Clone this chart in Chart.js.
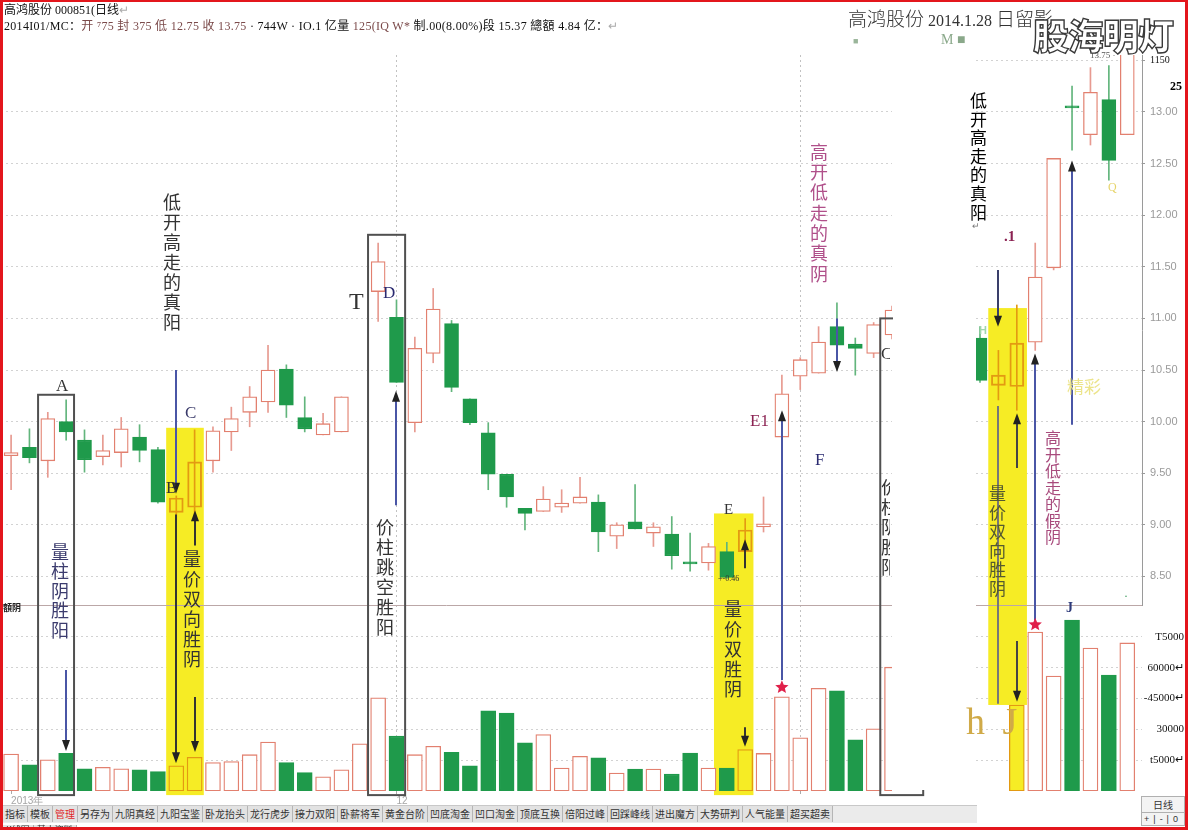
<!DOCTYPE html>
<html><head><meta charset="utf-8">
<script src="https://cdn.jsdelivr.net/npm/chart.js@4.4.0/dist/chart.umd.min.js"></script>
<style>
html,body{margin:0;padding:0;background:#fff;}
#stage{position:relative;width:1188px;height:830px;overflow:hidden;background:#fff;font-family:"Liberation Serif","Noto Sans CJK SC",serif;}
canvas{position:absolute;top:0;}
.t{position:absolute;white-space:nowrap;line-height:1;}
.v{position:absolute;writing-mode:vertical-rl;text-orientation:upright;font-family:"Noto Sans CJK SC",sans-serif;line-height:1;white-space:nowrap;}
.clip{position:absolute;overflow:hidden;}
#tabs{position:absolute;left:3px;top:805px;width:974px;height:17px;background:#ebebeb;border-top:1px solid #c8c8c8;font-family:"Noto Sans CJK SC",sans-serif;font-size:10px;color:#333;white-space:nowrap;overflow:hidden;}
#tabs span{display:inline-block;height:16px;line-height:16px;padding:0 2px;border-right:1px solid #b5b5b5;background:#e2e2e2;}
#tabs2{position:absolute;left:3px;top:823px;font-family:"Noto Sans CJK SC",sans-serif;font-size:9px;color:#333;white-space:nowrap;}
#tabs2 span{display:inline-block;padding:0 3px;border-right:1px solid #aaa;background:#e2e2e2;line-height:9px;}
#frame{position:absolute;left:0;top:0;width:1188px;height:830px;box-sizing:border-box;border-left:3px solid #e3161c;border-right:3px solid #e3161c;border-top:2px solid #e3161c;border-bottom:3px solid #e3161c;pointer-events:none;}
</style></head>
<body><div id="stage">
<canvas id="main" width="960" height="830" style="left:0"></canvas>
<div style="position:absolute;left:893px;top:57px;width:83px;height:733px;background:#fff"></div>
<canvas id="right" width="208" height="830" style="left:976px"></canvas>
<div id="texts"></div>
<div id="tabs"></div>
<div id="tabs2"><span>K线图</span><span>基本资料</span></div>
<div class="t" style="left:1141px;top:796px;width:42px;height:15px;border:1px solid #b0b0b0;background:#f3f3f3;font-family:'Noto Sans CJK SC';font-size:10px;text-align:center;line-height:15px;color:#333">日线</div>
<div class="t" style="left:1141px;top:812px;width:42px;height:12px;border:1px solid #b0b0b0;background:#f3f3f3;font-family:'Liberation Sans';font-size:9px;text-align:center;line-height:12px;color:#333;letter-spacing:4px">+|-|0</div>
<div id="frame"></div>
</div>
<script>
// ---------------- DATA (main chart, daily K-line, index 0..48) ----------------
const mainIdx   = [0,1,2,3,4,5,6,7,8,9,10,11,12,13,14,15,16,17,18,19,20,21,22,23,24,25,26,27,28,29,30,31,32,33,34,35,36,37,38,39,40,41,42,43,44,45,46,47,48];
const mainOpen  = [9.67,9.75,9.62,10.00,9.82,9.66,9.70,9.85,9.73,9.12,9.17,9.62,9.90,10.09,10.19,10.51,10.04,9.87,9.90,null,11.26,11.01,9.99,10.66,10.95,10.22,9.89,9.49,9.16,9.13,9.17,9.21,9.22,8.89,9.03,8.92,8.91,8.64,8.63,8.74,8.74,8.98,9.85,10.44,10.47,10.92,10.75,10.66,10.84];
const mainClose = [9.70,9.65,10.03,9.90,9.63,9.72,9.93,9.72,9.22,9.26,9.61,9.91,10.03,10.24,10.50,10.16,9.93,9.98,10.24,null,11.55,10.38,10.71,11.09,10.33,9.99,9.49,9.27,9.11,9.25,9.21,9.27,8.93,9.00,8.96,8.98,8.70,8.62,8.79,8.49,8.95,9.01,10.27,10.60,10.77,10.74,10.71,10.94,11.08];
const mainHigh  = [9.87,9.93,10.09,10.21,9.92,9.87,10.04,9.97,9.75,9.28,9.92,9.95,10.14,10.34,10.74,10.55,10.24,10.08,10.24,null,11.73,11.18,10.82,11.29,10.98,10.22,9.99,9.49,9.16,9.37,9.34,9.46,9.29,9.02,9.39,9.02,9.08,8.92,8.82,8.83,9.06,9.27,10.45,10.62,10.92,11.15,10.81,10.96,11.12];
const mainLow   = [9.34,9.60,9.46,9.82,9.51,9.58,9.56,9.61,9.21,9.05,9.05,9.51,9.72,9.95,10.09,10.04,9.90,9.87,9.90,null,10.97,10.38,9.90,10.57,10.29,9.97,9.34,9.17,8.95,9.13,9.12,9.21,8.74,8.77,8.96,8.79,8.57,8.55,8.56,8.48,8.74,8.93,9.81,10.31,10.47,10.67,10.45,10.62,10.80];
const mainVol   = [18000,12800,15200,18300,10800,11500,10800,10300,9500,12300,16400,13900,14300,17700,23800,13900,9000,6900,10300,23000,45400,26700,17700,21800,18800,12300,39000,38000,23500,27500,11200,16900,16100,8700,10700,10700,8200,18500,11200,11200,20200,18300,45900,25900,50000,48800,24900,30300,60300];
const mainHighlight = [9,10,40];
const dateTickIdx    = [0,21,43];
const dateTickLabels = ['2013年','12',''];
const priceGrid  = [8.5,9.0,9.5,10.0,10.5,11.0,11.5,12.0,12.5,13.0];
const volGrid    = [15000,30000,45000,60000,75000];

// ---------------- DATA (right panel, 2014.1.28 snapshot) ----------------
const rightIdx   = [0,1,2,3,4,5,6,7,8];
const rightOpen  = [10.81,10.35,10.34,10.77,11.49,13.06,12.78,13.12,12.78];
const rightClose = [10.40,10.45,10.76,11.40,12.55,13.04,13.19,12.53,13.60];
const rightHigh  = [10.92,10.69,11.13,11.73,12.55,13.25,13.43,13.45,13.70];
const rightLow   = [10.38,10.21,10.11,10.69,11.47,12.63,12.68,12.34,12.78];
const rightVol   = [null,null,41900,77400,56000,83300,69600,56500,72100];
const rightHighlight = [1,2];
const rightPriceTicks  = [8.50,8.75,9.00,9.25,9.50,9.75,10.00,10.25,10.50,10.75,11.00,11.25,11.50,11.75,12.00,12.25,12.50,12.75,13.00,13.25,13.50];
const rightPriceLabels = ['8.50','8.75','9.00','9.25','9.50','9.75','10.00','10.25','10.50','10.75','11.00','11.25','11.50','11.75','12.00','12.25','12.50','12.75','13.00','13.25','1150'];
const rightVolTicks  = [15000,30000,45000,60000,75000];
const rightVolLabels = ['t5000↵','30000','-45000↵','60000↵','T5000'];

// ---------------- annotations (in data units) ----------------
const mainYellow = [{x0:8.45,x1:10.5,top:{p:9.94},bot:{v:-2000}},{x0:38.3,x1:40.45,top:{p:9.11},bot:{v:-2000}}];
const mainRects  = [{x0:1.47,x1:3.43,top:{p:10.26},bot:{v:-2000}},{x0:19.45,x1:21.47,top:{p:11.81},bot:{v:-2000}},{x0:47.36,x1:49.7,top:{p:11.0},bot:{v:-2000}}];
const mainArrows = [
  {x:3,from:{v:58900},to:{v:19500},color:'#4a56a6',head:true},
  {x:9,from:{p:10.50},to:{p:9.30},color:'#4a56a6',head:true},
  {x:9,from:{p:9.10},to:{v:13500},color:'#333',head:true},
  {x:10,from:{v:45800},to:{v:19000},color:'#333',head:true},
  {x:10,from:{p:8.80},to:{p:9.14},color:'#333',head:true},
  {x:21,from:{p:9.19},to:{p:10.30},color:'#4a56a6',head:true},
  {x:40,from:{p:8.58},to:{p:8.86},color:'#333',head:true},
  {x:40,from:{v:31000},to:{v:21500},color:'#333',head:true},
  {x:42,from:{v:54000},to:{p:10.11},color:'#4a56a6',head:true},
  {x:45,from:{p:11.0},to:{p:10.48},color:'#4a56a6',head:true}
];
const mainStars = [{x:42,at:{v:50500}}];
const rightYellow = [{x0:0.45,x1:2.55,top:{p:11.10},bot:{v:41900}}];
const rightArrows = [
  {x:1,from:{p:11.47},to:{p:10.92},color:'#3a3f6a',head:true},
  {x:1,from:{p:10.15},to:{v:42500},color:'#777',head:false},
  {x:2,from:{p:9.55},to:{p:10.08},color:'#444',head:true},
  {x:2,from:{v:73000},to:{v:43500},color:'#444',head:true},
  {x:3,from:{v:83000},to:{p:10.66},color:'#4a56a6',head:true},
  {x:5,from:{p:9.97},to:{p:12.53},color:'#4a56a6',head:true}
];
const rightStars = [{x:3,at:{v:81000}}];

// ---------------- styles ----------------
const RED='#e2806f', REDW='#e79a90', GREEN='#1f9a4b', GREENW='#62b57c', ORANGE='#e39a12', YELLOW='#f6ec25';

function candleSets(idx,o,c,h,l,v,hl){
  const pos={}; idx.forEach((x,i)=>pos[x]=i);
  const up=x=> o[pos[x]]===null || c[pos[x]]>=o[pos[x]];
  const isHL=x=>hl.includes(x);
  const keep=idx.filter((x,i)=>o[i]!==null);
  const keepV=idx.filter((x,i)=>v[i]!==null);
  const wick={type:'bar',yAxisID:'yP',grouped:false,order:3,barThickness:1,borderWidth:0,clip:0,
    data:keep.map(x=>({x,y:[l[pos[x]],h[pos[x]]]})),
    backgroundColor:ctx=>!ctx.raw?REDW:(isHL(ctx.raw.x)?ORANGE:(up(ctx.raw.x)?REDW:GREENW))};
  const body={type:'bar',yAxisID:'yP',grouped:false,order:2,barThickness:14,borderWidth:1.3,borderSkipped:false,minBarLength:2,clip:0,
    data:keep.map(x=>({x,y:[o[pos[x]],c[pos[x]]]})),
    backgroundColor:ctx=>!ctx.raw?'#fff':(up(ctx.raw.x)?(isHL(ctx.raw.x)?'rgba(0,0,0,0)':'#fff'):GREEN),
    borderColor:ctx=>!ctx.raw?RED:(isHL(ctx.raw.x)?ORANGE:(up(ctx.raw.x)?RED:GREEN))};
  const vol={type:'bar',yAxisID:'yV',grouped:false,order:1,barThickness:15,borderWidth:1.3,borderSkipped:false,clip:0,
    data:keepV.map(x=>({x,y:v[pos[x]]})),
    backgroundColor:ctx=>!ctx.raw?'#fff':(up(ctx.raw.x)?(isHL(ctx.raw.x)?YELLOW:'#fff'):GREEN),
    borderColor:ctx=>!ctx.raw?RED:(isHL(ctx.raw.x)?ORANGE:(up(ctx.raw.x)?RED:GREEN))};
  return [wick,body,vol];
}

function X(ch,x){return ch.scales.x.getPixelForValue(x);}
function Y(ch,pt){return pt.p!==undefined?ch.scales.yP.getPixelForValue(pt.p):ch.scales.yV.getPixelForValue(pt.v);}
function drawStar(ctx,cx,cy,r){ctx.beginPath();for(let k=0;k<10;k++){const rr=k%2?r*0.45:r;const a=-Math.PI/2+k*Math.PI/5;ctx.lineTo(cx+rr*Math.cos(a),cy+rr*Math.sin(a));}ctx.closePath();ctx.fill();}
const annotate={
  id:'annotate',
  beforeDatasetsDraw(ch,args,o){
    const ctx=ch.ctx;ctx.save();ctx.fillStyle=YELLOW;
    (o.yellow||[]).forEach(b=>{const x0=X(ch,b.x0),x1=X(ch,b.x1),y0=Y(ch,b.top),y1=Y(ch,b.bot);ctx.fillRect(x0,y0,x1-x0,y1-y0);});
    ctx.restore();
  },
  afterDatasetsDraw(ch,args,o){
    const ctx=ch.ctx;ctx.save();
    const yb=Math.round(ch.scales.yP.bottom)+0.5;
    ctx.strokeStyle='#bba7a7';ctx.lineWidth=1;ctx.beginPath();ctx.moveTo(ch.chartArea.left,yb);ctx.lineTo(ch.chartArea.right,yb);ctx.stroke();
    ctx.strokeStyle='#505050';ctx.lineWidth=2;
    (o.rects||[]).forEach(b=>{const x0=X(ch,b.x0),x1=X(ch,b.x1),y0=Y(ch,b.top),y1=Y(ch,b.bot);ctx.strokeRect(x0,y0,x1-x0,y1-y0);});
    (o.arrows||[]).forEach(a=>{
      const x=Math.round(X(ch,a.x)),y0=Y(ch,a.from),y1=Y(ch,a.to),dir=y1>y0?1:-1;
      ctx.strokeStyle=a.color;ctx.fillStyle=a.color;ctx.lineWidth=2;
      ctx.beginPath();ctx.moveTo(x,y0);ctx.lineTo(x,a.head?y1-dir*8:y1);ctx.stroke();
      if(a.head){ctx.fillStyle='#222';ctx.beginPath();ctx.moveTo(x,y1);ctx.lineTo(x-4,y1-dir*11);ctx.lineTo(x+4,y1-dir*11);ctx.closePath();ctx.fill();}
    });
    ctx.fillStyle='#e0204a';
    (o.stars||[]).forEach(s=>drawStar(ctx,X(ch,s.x),Y(ch,s.at),7));
    ctx.restore();
  }
};

// ---------------- main chart ----------------
new Chart(document.getElementById('main'),{
  type:'bar',
  data:{datasets:candleSets(mainIdx,mainOpen,mainClose,mainHigh,mainLow,mainVol,mainHighlight)},
  options:{
    responsive:false,animation:false,events:[],
    layout:{padding:{left:1,top:55,right:68,bottom:25}},
    plugins:{legend:{display:false},tooltip:{enabled:false},
      annotate:{yellow:mainYellow,rects:mainRects,arrows:mainArrows,stars:mainStars}},
    scales:{
      x:{type:'linear',min:-0.55,max:48.0,offset:false,position:'bottom',
        afterBuildTicks:a=>{a.ticks=dateTickIdx.map(v=>({value:v}));},
        afterFit:a=>{a.height=14;},
        ticks:{callback:(v,i)=>dateTickLabels[i],align:'start',color:'#a5a5a5',font:{size:10,family:'Liberation Sans'},padding:1,maxRotation:0,autoSkip:false},
        grid:{offset:false,color:c=>c.index===0?'rgba(0,0,0,0)':'#c2c2c2',tickColor:'#aaa',tickLength:3},
        border:{display:false,dash:[2,3]}},
      yP:{type:'linear',position:'right',stack:'s',stackWeight:550,min:8.2229,max:13.5523,
        afterBuildTicks:a=>{a.ticks=priceGrid.map(v=>({value:v}));},
        afterFit:a=>{a.width=0;},
        ticks:{display:false},grid:{color:'#d2d2d2',drawTicks:false},border:{display:false,dash:[2,3]}},
      yV:{type:'linear',position:'right',stack:'s',stackWeight:186,min:0,max:90584,
        afterBuildTicks:a=>{a.ticks=volGrid.map(v=>({value:v}));},
        afterFit:a=>{a.width=0;},
        ticks:{display:false},grid:{color:'#d2d2d2',drawTicks:false},border:{display:false,dash:[2,3]}}
    }
  },
  plugins:[annotate]
});

// ---------------- right panel ----------------
new Chart(document.getElementById('right'),{
  type:'bar',
  data:{datasets:candleSets(rightIdx,rightOpen,rightClose,rightHigh,rightLow,rightVol,rightHighlight)},
  options:{
    responsive:false,animation:false,events:[],
    layout:{padding:{left:0,top:55,right:0,bottom:39}},
    plugins:{legend:{display:false},tooltip:{enabled:false},
      annotate:{yellow:rightYellow,arrows:rightArrows,stars:rightStars}},
    scales:{
      x:{type:'linear',min:-0.217,max:8.80,offset:false,display:false},
      yP:{type:'linear',position:'right',stack:'s',stackWeight:550,min:8.2229,max:13.5523,
        afterBuildTicks:a=>{a.ticks=rightPriceTicks.map(v=>({value:v}));},
        afterFit:a=>{a.width=42;},
        ticks:{callback:(v,i)=>rightPriceLabels[i],padding:5,
          color:c=>c.index===rightPriceTicks.length-1?'#111':'#9a9a9a',
          font:c=>c.index===rightPriceTicks.length-1?{size:10,family:'Liberation Serif'}:{size:11,family:'Liberation Sans'}},
        grid:{color:c=>(c.tick&&Math.abs(c.tick.value*2-Math.round(c.tick.value*2))<1e-6)?'#d2d2d2':'rgba(0,0,0,0)',tickColor:'#999',tickLength:3},
        border:{display:true,color:'#9a9a9a',width:1,dash:[2,3]}},
      yV:{type:'linear',position:'right',stack:'s',stackWeight:186,min:0,max:90584,
        afterBuildTicks:a=>{a.ticks=rightVolTicks.map(v=>({value:v}));},
        afterFit:a=>{a.width=42;},
        ticks:{callback:(v,i)=>rightVolLabels[i],crossAlign:'far',color:'#111',font:{size:11,family:'Liberation Serif'}},
        grid:{color:'#d2d2d2',drawTicks:false},border:{display:false,dash:[2,3]}}
    }
  },
  plugins:[annotate]
});

// ---------------- texts ----------------
const tabLabels=['指标','模板','管理','另存为','九阴真经','九阳宝鉴','卧龙抬头','龙行虎步','接力双阳','卧薪将军','黄金台阶','凹底淘金','凹口淘金','顶底互换','倍阳过峰','回踩峰线','进出魔方','大势研判','人气能量','超买超卖'];
document.getElementById('tabs').innerHTML=tabLabels.map(t=>'<span'+(t==='管理'?' style="color:#e0262a"':'')+'>'+t+'</span>').join('');

const T=[];
function t(x,y,txt,st){T.push('<div class="t" style="left:'+x+'px;top:'+y+'px;'+(st||'')+'">'+txt+'</div>');}
function v(x,y,txt,st){T.push('<div class="v" style="left:'+x+'px;top:'+y+'px;'+(st||'')+'">'+txt+'</div>');}
// header
t(4,4,'高鸿股份 000851(日线<span style="color:#aaa">↵</span>','font-size:12px;color:#111');
t(4,20,'2014I01/MC：<span style="color:#7b4a4a">开 ⁷75 封 375 低 12.75 收 13.75</span> · 744W · IO.1 亿量 <span style="color:#7b4a4a">125(IQ W*</span> 制.00(8.00%)段 15.37 總額 4.84 亿：<span style="color:#aaa">↵</span>','font-size:12px;letter-spacing:0.3px;color:#111');
t(848,8,'<span style="font-family:\'Noto Sans CJK SC\';font-size:19px;font-weight:300">高鸿股份</span> <span style="font-size:16px">2014.1.28</span> <span style="font-family:\'Noto Sans CJK SC\';font-size:19px;font-weight:300">日留影</span>','color:#333');
t(853,37,'■','font-size:9px;color:#9ab59a');
t(941,33,'M ■','font-size:14px;color:#8aa88a');
t(1090,51,'13.75 ·','font-size:9px;color:#555');
t(1033,16,'股海明灯','font-family:\'Noto Sans CJK SC\';font-size:36px;font-weight:900;color:#fff;-webkit-text-stroke:1.4px #3a3a3a;letter-spacing:-1px');
t(1170,80,'25','font-size:12px;font-weight:bold;color:#000');
t(3,603,'額阴','font-family:\'Noto Sans CJK SC\';font-size:9px;font-weight:bold;color:#222');
// main annotations
v(163,193,'低开高走的真阳','font-size:18px;letter-spacing:2px;color:#333');
t(56,377,'A','font-size:17px;color:#333');
v(51,543,'量柱阴胜阳','font-size:18px;letter-spacing:1.5px;color:#3c3c6e');
t(166,479,'B','font-size:17px;color:#333');
t(185,404,'C','font-size:17px;color:#3a3a6a');
v(183,550,'量价双向胜阴','font-size:18px;letter-spacing:2px;color:#333');
t(349,289,'T','font-size:24px;color:#333');
t(383,284,'D','font-size:17px;color:#2a2a70');
v(376,518,'价柱跳空胜阳','font-size:18px;letter-spacing:2px;color:#333');
t(724,502,'E','font-size:15px;color:#333');
t(718,575,'+-0.46','font-size:8px;color:#333');
v(724,600,'量价双胜阴','font-size:18px;letter-spacing:2px;color:#333');
t(750,412,'E1','font-size:17px;color:#8b2252');
t(815,451,'F','font-size:17px;color:#2a2a70');
v(810,143,'高开低走的真阴','font-size:18px;letter-spacing:2.3px;color:#b0508a');
T.push('<div class="clip" style="left:881px;top:345px;width:9px;height:20px"><div class="t" style="left:0;top:0;font-size:17px;color:#333">C</div></div>');
T.push('<div class="clip" style="left:881px;top:478px;width:9px;height:170px"><div class="v" style="left:0;top:0;font-size:18px;letter-spacing:2px;color:#333">价柱阴胜阳</div></div>');
// right annotations
v(970,92,'低开高走的真阳','font-size:17px;letter-spacing:1.6px;color:#000');
t(972,222,'↵','font-size:9px;color:#777');
t(979,325,'H','font-family:\'Liberation Sans\';font-size:11px;font-weight:bold;color:#9fd6ae');
t(1004,229,'.1','font-size:15px;font-weight:bold;color:#8b2252');
v(989,485,'量价双向胜阴','font-size:17px;letter-spacing:2px;color:#555a30');
v(1045,430,'高开低走的假阴','font-size:16px;letter-spacing:0.5px;color:#a84a7c');
t(1067,377,'精彩','font-family:\'Noto Sans CJK SC\';font-size:17px;color:#ece48a');
t(1108,181,'Q','font-size:12px;color:#e6d46a');
t(1066,601,'J','font-size:14px;font-weight:bold;color:#2d3a7a');
t(966,702,'h J','font-size:38px;color:#d0aa48;letter-spacing:4px');
t(1124,590,'·','font-size:12px;color:#3a9a5a');
document.getElementById('texts').innerHTML=T.join('');
</script>
</body></html>
